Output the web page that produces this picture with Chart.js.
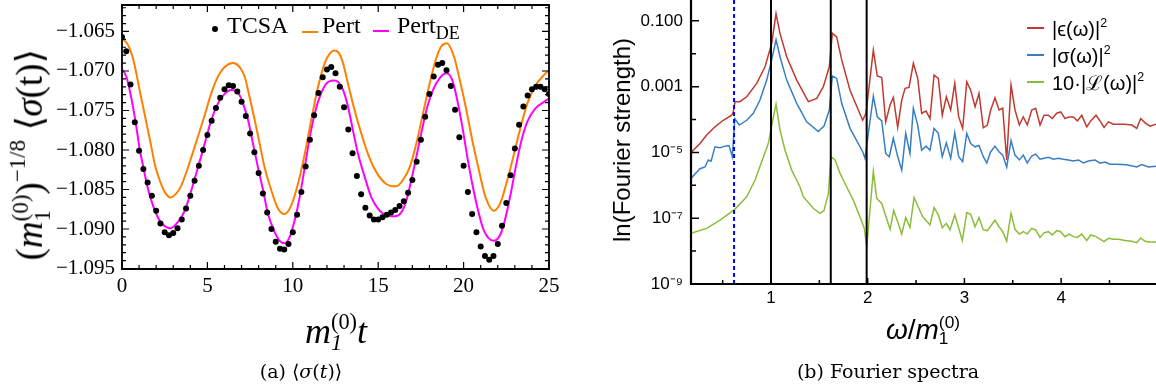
<!DOCTYPE html>
<html>
<head>
<meta charset="utf-8">
<script src="https://cdn.jsdelivr.net/npm/chart.js@4.4.1/dist/chart.umd.min.js"></script>
<style>
body{margin:0;background:#fff;width:1156px;height:389px;overflow:hidden;position:relative;font-family:"Liberation Serif",serif;color:#000}
.box{position:absolute;top:0;width:578px;height:320px}
#boxA{left:0}
#boxB{left:578px}
.t{position:absolute;white-space:nowrap;line-height:1}
.c{transform:translateX(-50%)}
.rot{transform:translate(-50%,-50%) rotate(-90deg)}
.ss{display:inline-block;vertical-align:-0.32em;font-size:0.62em;line-height:0.95}
.ss>span{display:block}
.sp{font-size:0.62em;vertical-align:0.75em}
.sans{font-family:"Liberation Sans",sans-serif}
.swatch{position:absolute;height:2px}
.dot{position:absolute;width:6px;height:6px;border-radius:50%;background:#000}
</style>
</head>
<body>
<div class="box" id="boxA"><canvas id="chartA"></canvas></div>
<div class="box" id="boxB"><canvas id="chartB"></canvas></div>

<!-- left panel texts -->
<div class="t rot" style="left:30px;top:155px;font-size:37px">(<i>m</i><span class="ss"><span>(0)</span><span>1</span></span>)<span class="sp">−1/8</span> ⟨<i>σ</i>(t)⟩</div>
<div class="t c" style="left:336px;top:311px;font-size:36px"><i>m</i><span class="ss"><span>(0)</span><span><i>1</i></span></span><i>t</i></div>
<div class="dot" style="left:212px;top:26px"></div>
<div class="t" style="left:227px;top:13px;font-size:24px">TCSA</div>
<div class="swatch" style="left:302px;top:31px;width:16px;background:#ff8000"></div>
<div class="t" style="left:322px;top:13px;font-size:24px">Pert</div>
<div class="swatch" style="left:373px;top:30px;width:16px;background:#ff00ff"></div>
<div class="t" style="left:397px;top:13px;font-size:24px">Pert<sub style="font-size:0.75em">DE</sub></div>

<!-- right panel texts -->
<div class="t rot sans" style="left:622px;top:140px;font-size:24px">ln(Fourier strength)</div>
<div class="t c sans" style="left:923px;top:314px;font-size:28px"><i>ω</i>/<i>m</i><span class="ss"><span>(0)</span><span>1</span></span></div>
<div class="swatch" style="left:1027px;top:27px;width:17px;background:#bf3a30"></div>
<div class="t sans" style="left:1052px;top:17px;font-size:20px">|ϵ(ω)|<span class="sp">2</span></div>
<div class="swatch" style="left:1027px;top:54px;width:17px;background:#3a7ec2"></div>
<div class="t sans" style="left:1052px;top:44px;font-size:20px">|σ(ω)|<span class="sp">2</span></div>
<div class="swatch" style="left:1027px;top:81px;width:17px;background:#8cbd3a"></div>
<div class="t sans" style="left:1052px;top:71px;font-size:20px">10·|ℒ(ω)|<span class="sp">2</span></div>

<!-- captions -->
<div class="t c" style="left:301px;top:362px;font-size:19px;font-family:'DejaVu Serif',serif">(a) ⟨<i>σ</i>(<i>t</i>)⟩</div>
<div class="t c" style="left:888px;top:362px;font-size:19px;font-family:'DejaVu Serif',serif">(b) Fourier spectra</div>

<script>
// ---- panel (a): time series ----
const tcsaT = [0,0.25,0.5,0.75,1,1.25,1.5,1.75,2,2.25,2.5,2.75,3,3.25,3.5,3.75,4,4.25,4.5,4.75,5,5.25,5.5,5.75,6,
  6.25,6.5,6.75,7,7.25,7.5,7.75,8,8.25,8.5,8.75,9,9.25,9.5,9.75,10,10.25,10.5,10.75,11,11.25,11.5,11.75,12,12.25,
  12.5,12.75,13,13.25,13.5,13.75,14,14.25,14.5,14.75,15,15.25,15.5,15.75,16,16.25,16.5,16.75,17,17.25,17.5,17.75,18,18.25,18.5,
  18.75,19,19.25,19.5,19.75,20,20.25,20.5,20.75,21,21.25,21.5,21.75,22,22.25,22.5,22.75,23,23.25,23.5,23.75,24,24.25,24.5,24.75,25];
const tcsaV = [-1.0657,-1.0675,-1.0717,-1.0765,-1.0801,-1.0824,-1.0841,-1.0858,-1.0877,-1.0893,-1.0904,-1.0908,-1.0905,-1.0899,-1.0888,-1.0874,-1.0858,-1.0839,-1.0820,-1.0800,-1.0781,-1.0763,-1.0747,-1.0734,-1.0723,
  -1.0718,-1.0719,-1.0726,-1.0739,-1.0757,-1.0779,-1.0803,-1.0829,-1.0855,-1.0879,-1.0900,-1.0916,-1.0925,-1.0926,-1.0919,-1.0904,-1.0882,-1.0853,-1.0821,-1.0787,-1.0756,-1.0728,-1.0708,-1.0698,-1.0695,
  -1.0703,-1.0720,-1.0746,-1.0774,-1.0804,-1.0833,-1.0856,-1.0873,-1.0883,-1.0888,-1.0888,-1.0885,-1.0882,-1.0879,-1.0876,-1.0871,-1.0865,-1.0854,-1.0838,-1.0815,-1.0787,-1.0758,-1.0729,-1.0707,-1.0692,
  -1.0690,-1.0699,-1.0719,-1.0749,-1.0784,-1.0820,-1.0853,-1.0881,-1.0904,-1.0922,-1.0934,-1.0939,-1.0934,-1.0919,-1.0896,-1.0867,-1.0832,-1.0798,-1.0768,-1.0745,-1.0731,-1.0723,-1.0720,-1.0720,-1.0723,-1.0729];

const pertT = [0,0.35,0.64,0.84,1.03,1.23,1.48,1.72,1.91,2.2,2.5,2.83,3.18,3.47,3.77,4.06,4.45,4.84,5.23,5.62,6.01,6.5,
  6.89,7.18,7.47,7.77,8.06,8.35,8.74,9.13,9.52,9.91,10.3,10.7,11.08,11.48,11.87,12.16,12.41,12.65,12.94,13.23,13.62,14.01,
  14.4,14.89,15.47,16.06,16.45,16.84,17.23,17.62,18.01,18.4,18.69,19.02,19.44,19.73,20.12,20.51,20.9,21.29,21.78,22.17,
  22.56,22.95,23.34,23.73,24.22,24.71,25];
const pertV = [-1.0659,-1.0667,-1.0684,-1.0703,-1.0724,-1.0745,-1.0771,-1.0796,-1.0817,-1.0838,-1.0853,-1.0860,-1.0855,-1.0845,-1.0828,-1.0809,-1.0783,-1.0756,-1.0728,-1.0707,-1.0695,-1.0690,
  -1.0695,-1.0707,-1.0733,-1.0762,-1.0792,-1.0822,-1.0851,-1.0874,-1.0881,-1.0870,-1.0843,-1.0805,-1.0762,-1.0720,-1.0690,-1.0678,-1.0674,-1.0676,-1.0690,-1.0716,-1.0750,-1.0779,
  -1.0805,-1.0828,-1.0843,-1.0846,-1.0838,-1.0822,-1.0792,-1.0754,-1.0716,-1.0684,-1.0669,-1.0665,-1.0682,-1.0707,-1.0745,-1.0788,-1.0826,-1.0860,-1.0877,-1.0866,
  -1.0838,-1.0805,-1.0771,-1.0741,-1.0718,-1.0705,-1.0699];

const pertDeT = [0,0.25,0.45,0.64,0.84,1.03,1.29,1.52,1.81,2.2,2.83,3.28,3.67,4.06,4.45,4.84,5.23,5.62,6.01,6.4,
  6.79,7.08,7.38,7.67,7.96,8.26,8.55,8.94,9.23,9.52,9.82,10.11,10.4,10.7,10.99,11.28,11.57,11.96,12.41,12.65,12.94,13.23,
  13.52,13.82,14.21,14.6,15.09,15.57,15.96,16.35,16.65,16.94,17.23,17.52,17.82,18.21,18.6,19.02,19.34,19.63,19.93,20.22,
  20.51,20.8,21.19,21.78,22.17,22.46,22.76,23.05,23.34,23.73,24.22,24.71,25];
const pertDeV = [-1.0698,-1.0707,-1.0724,-1.0745,-1.0771,-1.0798,-1.0826,-1.0849,-1.0870,-1.0889,-1.0899,-1.0891,-1.0877,-1.0851,-1.0822,-1.0792,-1.0762,-1.0741,-1.0729,-1.0724,
  -1.0727,-1.0741,-1.0762,-1.0792,-1.0822,-1.0851,-1.0881,-1.0904,-1.0915,-1.0918,-1.0910,-1.0889,-1.0860,-1.0822,-1.0784,-1.0754,-1.0733,-1.0716,-1.0712,-1.0714,-1.0724,-1.0745,
  -1.0775,-1.0805,-1.0834,-1.0860,-1.0877,-1.0883,-1.0884,-1.0879,-1.0864,-1.0838,-1.0809,-1.0779,-1.0750,-1.0724,-1.0709,-1.0703,-1.0712,-1.0737,-1.0771,-1.0809,
  -1.0843,-1.0872,-1.0902,-1.0915,-1.0906,-1.0885,-1.0855,-1.0822,-1.0792,-1.0764,-1.0747,-1.0739,-1.0735];

const tTicks = [0, 5, 10, 15, 20, 25];
const tTickLabels = ['0', '5', '10', '15', '20', '25'];
const sTicks = [-1.095, -1.09, -1.085, -1.08, -1.075, -1.07, -1.065];
const sTickLabels = ['−1.095', '−1.090', '−1.085', '−1.080', '−1.075', '−1.070', '−1.065'];

// ---- panel (b): Fourier spectra ----
const epsW = [0.180,0.266,0.335,0.421,0.507,0.594,0.610,0.628,0.679,0.749,0.852,0.938,1.007,1.052,1.093,1.162,1.266,1.386,1.473,1.541,1.603,1.634,
  1.679,1.731,1.817,1.903,1.948,1.982,2.058,2.099,2.145,2.186,2.231,2.265,2.310,2.352,2.386,2.427,2.472,2.517,2.558,2.603,2.644,2.686,2.730,2.771,
  2.813,2.858,2.900,2.941,2.982,3.024,3.065,3.110,3.151,3.195,3.237,3.272,3.316,3.358,3.396,3.437,3.482,3.523,3.568,3.609,3.650,3.696,3.737,3.782,
  3.823,3.868,3.909,3.954,3.996,4.040,4.082,4.126,4.168,4.213,4.265,4.306,4.361,4.402,4.444,4.488,4.540,4.592,4.661,4.730,4.782,4.823,4.868,4.919,4.981];
const epsV = [1.05e-5,1.86e-5,3.39e-5,6.0e-5,9.5e-5,1.35e-4,1.7e-4,3.5e-4,3.5e-4,4.9e-4,1.26e-3,4.0e-3,0.0204,0.166,0.0417,8.1e-3,1.58e-3,3.5e-4,4.4e-4,1.0e-3,4.0e-3,0.0417,
  0.0324,6.5e-3,7.8e-4,1.95e-4,9.5e-5,1.55e-4,0.0129,2.1e-3,1.9e-3,8.5e-5,2.75e-4,4.7e-4,5.75e-5,3.9e-4,8.9e-4,9.5e-4,5.1e-3,1.78e-3,1.55e-4,1.82e-4,1.07e-4,2.24e-3,1.78e-3,1.35e-4,
  4.9e-4,1.95e-4,1.26e-3,1.2e-4,5.4e-5,1.41e-3,7.8e-4,2.45e-4,6.2e-4,5.6e-5,6.8e-5,1.95e-4,4.6e-4,1.95e-4,2.2e-4,5.9e-6,1.12e-3,1.95e-4,6.8e-5,1.2e-4,6.8e-5,1.95e-4,2.2e-4,6.8e-5,
  1.35e-4,1.35e-4,1.07e-4,1.55e-4,1.7e-4,1.07e-4,1.2e-4,1.2e-4,9.1e-5,1.35e-4,6.0e-5,9.1e-5,1.35e-4,9.1e-5,5.75e-5,8.5e-5,7.2e-5,7.2e-5,7.2e-5,6.8e-5,5.4e-5,1.07e-4,7.9e-5,6.3e-5,7.2e-5];

const sigW = [0.173,0.214,0.266,0.317,0.352,0.380,0.421,0.473,0.524,0.566,0.600,0.625,0.672,0.749,0.817,0.886,0.956,1.007,1.052,1.093,1.162,1.266,
  1.369,1.489,1.548,1.603,1.634,1.679,1.731,1.817,1.886,1.948,1.972,2.058,2.099,2.145,2.186,2.223,2.265,2.306,2.352,2.393,2.437,2.472,2.517,2.558,
  2.603,2.644,2.686,2.730,2.771,2.813,2.858,2.900,2.941,2.982,3.024,3.065,3.110,3.151,3.195,3.231,3.272,3.316,3.358,3.396,3.437,3.482,3.523,3.568,
  3.609,3.650,3.696,3.737,3.782,3.823,3.868,3.919,3.971,4.023,4.074,4.126,4.178,4.230,4.281,4.351,4.402,4.454,4.506,4.575,4.678,4.782,4.834,4.902,4.981];
const sigV = [1.62e-6,2.2e-6,3.2e-6,3.6e-6,5.9e-6,5.4e-6,1.48e-5,1.38e-5,1.55e-5,1.62e-5,7.4e-6,1.07e-4,6.8e-5,9.5e-5,1.55e-4,3.9e-4,1.58e-3,6.5e-3,0.0269,8.1e-3,1.58e-3,3.1e-4,
  8.5e-5,4.3e-5,6.3e-5,1.95e-4,2.1e-3,1.78e-3,3.1e-4,5.4e-5,2.3e-5,1.05e-5,6.6e-6,5.1e-4,1.2e-4,9.1e-5,9.3e-6,7.4e-6,2.7e-5,8.3e-6,2.9e-6,3.8e-5,9.3e-6,2.2e-4,6.8e-5,1.17e-5,
  1.55e-5,1.17e-5,5.4e-5,3.8e-5,7.4e-6,1.95e-5,6.6e-6,4.0e-5,7.4e-6,5.2e-6,3.8e-5,1.86e-5,1.48e-5,1.62e-5,7.4e-6,4.8e-6,1.05e-5,1.55e-5,1.05e-5,8.3e-6,3.6e-6,2.3e-5,8.3e-6,5.9e-6,
  8.3e-6,4.8e-6,7.8e-6,8.9e-6,6.2e-6,6.6e-6,7.1e-6,6.2e-6,6.6e-6,6.2e-6,5.9e-6,5.5e-6,5.9e-6,4.8e-6,5.5e-6,5.9e-6,4.7e-6,5.1e-6,4.4e-6,4.4e-6,4.2e-6,3.6e-6,4.3e-6,3.6e-6,3.8e-6];

const lagW = [0.173,0.335,0.473,0.625,0.749,0.835,0.972,1.018,1.052,1.093,1.145,1.214,1.300,1.334,1.437,1.507,1.548,1.593,1.620,1.662,
  1.714,1.783,1.851,1.920,1.965,1.990,2.058,2.093,2.145,2.189,2.231,2.269,2.310,2.352,2.393,2.437,2.479,2.523,2.569,2.644,
  2.686,2.730,2.771,2.813,2.851,2.900,2.937,2.978,3.024,3.065,3.110,3.151,3.195,3.237,3.316,3.358,3.396,3.437,3.482,3.523,
  3.568,3.609,3.650,3.696,3.737,3.782,3.823,3.868,3.909,3.954,3.996,4.040,4.082,4.126,4.168,4.213,4.265,4.306,4.361,4.402,
  4.444,4.488,4.540,4.592,4.661,4.730,4.782,4.823,4.868,4.919,4.981];
const lagV = [3.5e-8,4.9e-8,8.7e-8,1.86e-7,4.5e-7,1.45e-6,1.86e-5,9.5e-5,2.95e-4,4.8e-5,1.17e-5,2.9e-6,8.9e-7,4.5e-7,2.0e-7,1.41e-7,1.7e-7,5.6e-7,7.4e-6,5.9e-6,
  2.3e-6,8.9e-7,3.5e-7,1.1e-7,4.9e-8,1.35e-8,2.6e-6,4.0e-7,2.8e-7,1.1e-7,4.6e-8,1.7e-7,7.8e-8,3.3e-8,1.05e-7,5.2e-8,4.3e-7,2.2e-7,1.1e-7,6.2e-8,
  2.1e-7,1.26e-7,5.1e-8,6.9e-8,4.4e-8,1.26e-7,5.5e-8,2.1e-8,1.48e-7,1.32e-7,5.5e-8,1.05e-7,4.4e-8,4.2e-8,8.7e-8,5.5e-8,3.9e-8,2.0e-8,1.41e-7,4.6e-8,
  3.3e-8,3.9e-8,3.3e-8,4.9e-8,4.4e-8,2.6e-8,3.6e-8,3.9e-8,3.1e-8,4.2e-8,3.9e-8,2.75e-8,3.3e-8,2.75e-8,2.6e-8,3.3e-8,2.1e-8,3.1e-8,2.75e-8,2.3e-8,
  1.95e-8,2.45e-8,2.3e-8,2.3e-8,2.1e-8,2.0e-8,1.8e-8,2.5e-8,2.0e-8,1.9e-8,1.9e-8];

const massLines = [1, 1.618, 1.989];   // black verticals
const diffLine = 0.618;                  // blue dashed
const wTicks = [1, 2, 3, 4];
const wTickLabels = ['1', '2', '3', '4'];
const fTicks = [1e-9, 1e-7, 1e-5, 1e-3, 1e-1];
const fTickLabels = ['10⁻⁹', '10⁻⁷', '10⁻⁵', '0.001', '0.100'];

function pts(xs, ys) { return xs.map((x, i) => ({x: x, y: ys[i]})); }

// inward ticks + frame, drawn with the chart's own scales
function frame(cfg) {
  return {
    id: 'frame',
    afterDatasetsDraw(chart) {
      const {ctx, chartArea: a} = chart;
      const sx = chart.scales.x, sy = chart.scales.y;
      ctx.save();
      ctx.strokeStyle = '#000';
      ctx.lineWidth = cfg.tickWidth;
      ctx.beginPath();
      cfg.xt.forEach(([v, len]) => {
        const p = sx.getPixelForValue(v);
        if (cfg.sides.includes('b')) { ctx.moveTo(p, a.bottom); ctx.lineTo(p, a.bottom - len); }
        if (cfg.sides.includes('t')) { ctx.moveTo(p, a.top); ctx.lineTo(p, a.top + len); }
      });
      cfg.yt.forEach(([v, len]) => {
        const p = sy.getPixelForValue(v);
        if (cfg.sides.includes('l')) { ctx.moveTo(a.left, p); ctx.lineTo(a.left + len, p); }
        if (cfg.sides.includes('r')) { ctx.moveTo(a.right, p); ctx.lineTo(a.right - len, p); }
      });
      ctx.stroke();
      ctx.lineWidth = cfg.axisWidth;
      ctx.beginPath();
      if (cfg.sides.includes('b')) { ctx.moveTo(a.left - 1, a.bottom); ctx.lineTo(a.right + 1, a.bottom); }
      if (cfg.sides.includes('t')) { ctx.moveTo(a.left - 1, a.top); ctx.lineTo(a.right + 1, a.top); }
      if (cfg.sides.includes('l')) { ctx.moveTo(a.left, a.top); ctx.lineTo(a.left, a.bottom + 1); }
      if (cfg.sides.includes('r')) { ctx.moveTo(a.right, a.top); ctx.lineTo(a.right, a.bottom + 1); }
      ctx.stroke();
      ctx.restore();
    }
  };
}

// keep the plot box where it is in the figure: no extra room for edge labels
function fixY(w) { return s => { s.width = w; s.paddingTop = 0; s.paddingBottom = 0; }; }
function fixX(h) { return s => { s.height = h; s.paddingLeft = 0; s.paddingRight = 0; }; }

// tick marks for panel (a)
const xtA = [];
for (let i = 0; i <= 25; i++) xtA.push([i, i % 5 === 0 ? 7 : 4]);
const ytA = [];
for (let i = 0; i <= 33; i++) ytA.push([-1.095 + i * 0.001, i % 5 === 0 ? 7 : 4]);

// tick marks for panel (b)
const xtB = [];
for (let i = 1; i <= 9; i++) xtB.push([i * 0.5, i % 2 === 0 ? 6 : 4]);
const ytB = [];
for (let e = -9; e <= -1; e++) ytB.push([Math.pow(10, e), e % 2 !== 0 ? 8 : 5]);

new Chart(document.getElementById('chartA'), {
  type: 'scatter',
  data: {
    datasets: [
      {label: 'TCSA', data: pts(tcsaT, tcsaV), pointRadius: 3, pointBackgroundColor: '#000', pointBorderWidth: 0, showLine: false},
      {label: 'Pert', data: pts(pertT, pertV), showLine: true, borderColor: '#ff8000', borderWidth: 2, pointRadius: 0, cubicInterpolationMode: 'monotone'},
      {label: 'PertDE', data: pts(pertDeT, pertDeV), showLine: true, borderColor: '#ff00ff', borderWidth: 2, pointRadius: 0, cubicInterpolationMode: 'monotone'}
    ]
  },
  options: {
    responsive: true, maintainAspectRatio: false, animation: false,
    layout: {padding: {top: 5, right: 29, left: 0, bottom: 0}},
    plugins: {legend: {display: false}, tooltip: {enabled: false}},
    scales: {
      x: {
        type: 'linear', min: 0, max: 25,
        grid: {display: false, drawTicks: false}, border: {display: false},
        afterBuildTicks: s => { s.ticks = tTicks.map(v => ({value: v})); },
        afterFit: fixX(51),
        ticks: {padding: 5, color: '#000', maxRotation: 0, autoSkip: false,
          font: {family: 'Liberation Serif', size: 21},
          callback: (v, i) => tTickLabels[i]}
      },
      y: {
        type: 'linear', min: -1.09506, max: -1.06165,
        grid: {display: false, drawTicks: false}, border: {display: false},
        afterBuildTicks: s => { s.ticks = sTicks.map(v => ({value: v})); },
        afterFit: fixY(122),
        ticks: {padding: 7, color: '#000', autoSkip: false,
          font: {family: 'Liberation Serif', size: 21},
          callback: (v, i) => sTickLabels[i]}
      }
    }
  },
  plugins: [frame({sides: 'bltr', xt: xtA, yt: ytA, tickWidth: 1.2, axisWidth: 1.8})]
});

const vlines = massLines.map(w => ({
  data: [{x: w, y: 1e-9}, {x: w, y: 0.43}], showLine: true, borderColor: '#000', borderWidth: 2, pointRadius: 0
}));

new Chart(document.getElementById('chartB'), {
  type: 'scatter',
  data: {
    datasets: [
      ...vlines,
      {data: [{x: diffLine, y: 1e-9}, {x: diffLine, y: 0.43}], showLine: true, borderColor: '#0000ff', borderWidth: 2, borderDash: [4, 3], pointRadius: 0},
      {label: 'eps', data: pts(epsW, epsV), showLine: true, borderColor: '#bf3a30', borderWidth: 1.5, pointRadius: 0},
      {label: 'sigma', data: pts(sigW, sigV), showLine: true, borderColor: '#3a7ec2', borderWidth: 1.5, pointRadius: 0},
      {label: 'L', data: pts(lagW, lagV), showLine: true, borderColor: '#8cbd3a', borderWidth: 1.5, pointRadius: 0}
    ]
  },
  options: {
    responsive: true, maintainAspectRatio: false, animation: false,
    layout: {padding: {top: 0, right: 0, left: 0, bottom: 0}},
    plugins: {legend: {display: false}, tooltip: {enabled: false}},
    scales: {
      x: {
        type: 'linear', min: 0.1727, max: 4.981,
        grid: {display: false, drawTicks: false}, border: {display: false},
        afterBuildTicks: s => { s.ticks = wTicks.map(v => ({value: v})); },
        afterFit: fixX(36),
        ticks: {padding: 4, color: '#000', maxRotation: 0, autoSkip: false,
          font: {family: 'Liberation Sans', size: 17},
          callback: (v, i) => wTickLabels[i]}
      },
      y: {
        type: 'logarithmic', min: 1e-9, max: 0.43,
        grid: {display: false, drawTicks: false}, border: {display: false},
        afterBuildTicks: s => { s.ticks = fTicks.map(v => ({value: v})); },
        afterFit: fixY(113),
        ticks: {padding: 8, color: '#000', autoSkip: false,
          font: {family: 'Liberation Sans', size: 17},
          callback: (v, i) => fTickLabels[i]}
      }
    }
  },
  plugins: [frame({sides: 'bl', xt: xtB, yt: ytB, tickWidth: 1.5, axisWidth: 2.2})]
});
</script>
</body>
</html>
